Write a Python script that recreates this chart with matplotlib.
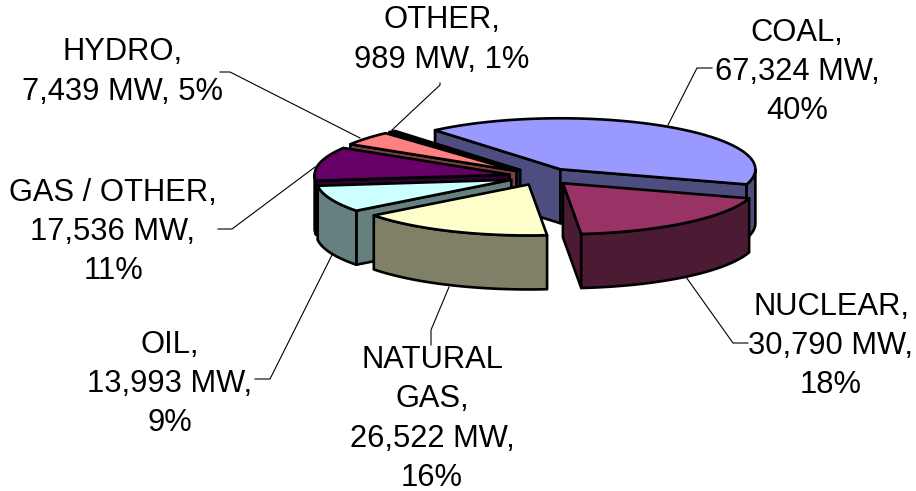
import numpy as np
import matplotlib
matplotlib.use("Agg")
import matplotlib.pyplot as plt

plt.rcParams['font.family'] = ['Liberation Sans', 'DejaVu Sans']

# data
names = ["COAL", "NUCLEAR", "NATURAL GAS", "OIL", "GAS / OTHER", "HYDRO", "OTHER"]
mw = [67324, 30790, 26522, 13993, 17536, 7439, 989]
labels = ["COAL,\n67,324 MW,\n40%",
          "NUCLEAR,\n30,790 MW,\n18%",
          "NATURAL\nGAS,\n26,522 MW,\n16%",
          "OIL,\n13,993 MW,\n9%",
          "GAS / OTHER,\n17,536 MW,\n11%",
          "HYDRO,\n7,439 MW, 5%",
          "OTHER,\n989 MW, 1%"]
top_colors = ["#9999FF", "#993366", "#FFFFCC", "#CCFFFF", "#660066", "#FF8080", "#0066CC"]
side_colors = ["#4D4D80", "#4D1A33", "#808066", "#668080", "#330033", "#804040", "#003366"]

# pie geometry in pixels
cx, cy = 542, 176.5
a, b = 195, 51
depth = 54
explode = 0.17
start_angle = 130
draw_order = [0, 6, 5, 4, 3, 2, 1]

label_pos = [(797, 72), (831, 346), (432, 419), (170, 384), (113, 232), (123, 72), (442, 40)]
leaders = [[(668, 125), (697, 68), (712, 68)],
           [(686, 277), (733, 343), (748, 343)],
           [(449, 287), (431, 330), (431, 345)],
           [(332, 255), (270, 379), (255, 379)],
           [(315, 167), (232, 229), (218, 229)],
           [(360, 138), (230, 72), (220, 72)],
           [(392, 130), (440, 85), (440, 83)]]

fig = plt.figure(figsize=(9.16, 4.91), dpi=100)
ax = fig.add_axes([0, 0, 1, 1])
ax.set_xlim(0, 916)
ax.set_ylim(491, 0)
ax.axis('off')

lw = 1.9

# angles go clockwise from the start angle
sweeps = np.array(mw) / sum(mw) * 360
starts = start_angle - np.concatenate(([0], np.cumsum(sweeps)[:-1]))
ends = starts - sweeps


def rim(x0, y0, t):
    r = np.radians(t)
    return x0 + a * np.cos(r), y0 - b * np.sin(r)


def face(xs, ys, color, z):
    ax.fill(xs, ys, facecolor=color, edgecolor='black', linewidth=lw, joinstyle='round', zorder=z)


for n, i in enumerate(draw_order):
    t0, t1 = starts[i], ends[i]
    mid = (t0 + t1) / 2
    x0 = cx + explode * a * np.cos(np.radians(mid))
    y0 = cy - explode * b * np.sin(np.radians(mid))
    z = 2 + n

    # flat walls, only when they turn toward the viewer
    if np.cos(np.radians(t0)) < 0:
        xr, yr = rim(x0, y0, t0)
        face([x0, xr, xr, x0], [y0, yr, yr + depth, y0 + depth], side_colors[i], z)
    if np.cos(np.radians(t1)) > 0:
        xr, yr = rim(x0, y0, t1)
        face([x0, xr, xr, x0], [y0, yr, yr + depth, y0 + depth], side_colors[i], z)

    # curved wall, front half of the ellipse only
    ts = np.linspace(t1, t0, 200)
    ts = ts[np.sin(np.radians(ts)) <= 0]
    if len(ts) > 1:
        xr, yr = rim(x0, y0, ts)
        face(np.r_[xr, xr[::-1]], np.r_[yr, yr[::-1] + depth], side_colors[i], z)

    # top
    ts = np.linspace(t0, t1, 200)
    xr, yr = rim(x0, y0, ts)
    face(np.r_[x0, xr], np.r_[y0, yr], top_colors[i], z)

for i in range(len(names)):
    pts = np.array(leaders[i])
    ax.plot(pts[:, 0], pts[:, 1], color='black', linewidth=0.8, zorder=1)
    ax.text(label_pos[i][0], label_pos[i][1], labels[i], ha='center', va='center',
            fontsize=22.2, linespacing=1.394, color='black', zorder=20)

fig.savefig("out.png", dpi=100)
